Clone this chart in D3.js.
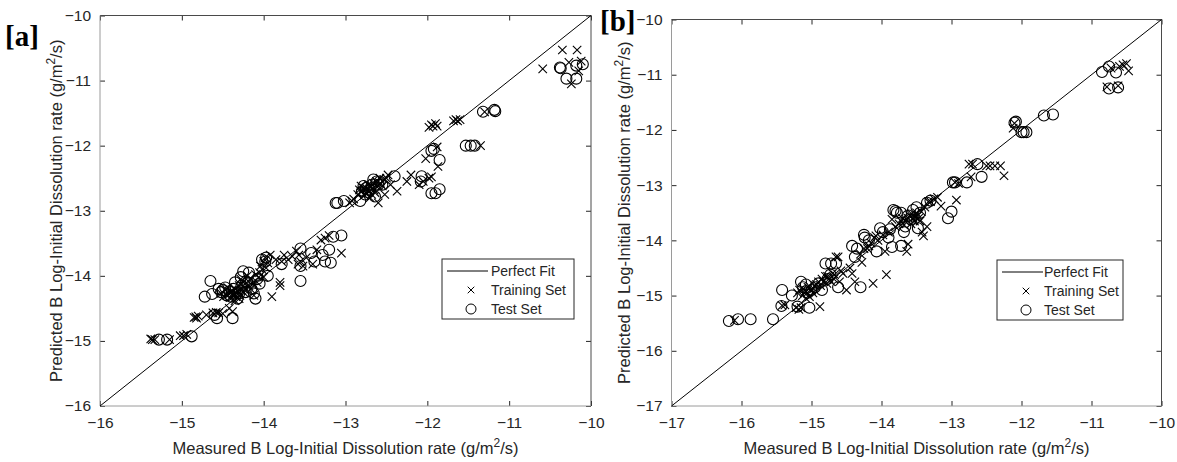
<!DOCTYPE html>
<html>
<head>
<meta charset="utf-8">
<script src="https://cdnjs.cloudflare.com/ajax/libs/d3/7.8.5/d3.min.js"></script>
<style>
  body { margin: 0; background: #fff; }
  svg text { font-family: Arial, "Liberation Sans", sans-serif; fill: #262626; }
</style>
</head>
<body>
<svg id="viz-svg" width="1177" height="462"></svg>
<script>
// [measured, predicted] pairs
var trainA = [
  [-15.38,-14.97],[-15.36,-14.98],[-15.33,-14.98],[-15.15,-14.98],[-15.02,-14.92],[-14.98,-14.92],[-14.94,-14.9],
  [-14.85,-14.64],[-14.83,-14.63],[-14.82,-14.65],[-14.8,-14.62],[-14.7,-14.6],[-14.62,-14.57],[-14.58,-14.56],
  [-14.55,-14.57],[-14.5,-14.58],[-14.42,-14.5],[-14.38,-14.55],[-14.45,-14.3],[-14.4,-14.25],[-14.38,-14.3],
  [-14.35,-14.2],[-14.3,-14.15],[-14.28,-14.05],[-14.25,-14.1],[-14.22,-14.2],[-14.2,-14.0],[-14.15,-14.05],
  [-14.1,-13.98],[-14.08,-14.1],[-14.05,-13.95],[-14.02,-13.9],[-14.0,-13.78],[-13.98,-13.72],[-13.95,-13.8],
  [-13.92,-13.68],[-13.9,-14.32],[-13.85,-13.75],[-13.8,-14.1],[-13.8,-14.15],[-13.78,-13.78],[-13.75,-13.68],
  [-13.7,-13.75],[-13.65,-13.7],[-13.6,-13.62],[-13.55,-13.78],[-13.52,-13.85],[-13.48,-13.72],[-13.4,-13.82],
  [-13.35,-13.6],[-13.3,-13.45],[-13.25,-13.42],[-13.2,-13.38],[-13.05,-13.65],[-14.0,-14.02],[-14.3,-14.35],
  [-14.35,-14.38],[-14.12,-14.3],[-14.18,-14.15],[-14.42,-14.28],[-14.47,-14.22],[-14.33,-14.27],[-14.27,-14.22],
  [-14.44,-14.18],[-14.41,-14.33],[-14.39,-14.22],[-14.36,-14.28],[-14.34,-14.32],[-14.31,-14.24],[-14.29,-14.3],
  [-14.26,-14.16],[-14.24,-14.26],[-14.19,-14.08],[-14.16,-14.2],[-14.13,-14.12],[-14.06,-14.02],[-14.04,-13.85],
  [-13.97,-13.88],[-14.52,-14.27],[-14.49,-14.32],[-13.58,-13.82],[-13.57,-13.68],
  [-12.95,-12.88],[-12.92,-12.85],[-12.9,-12.82],[-12.85,-12.75],[-12.8,-12.7],[-12.78,-12.65],[-12.75,-12.72],
  [-12.72,-12.6],[-12.7,-12.8],[-12.68,-12.75],[-12.65,-12.68],[-12.62,-12.55],[-12.6,-12.88],[-12.58,-12.5],
  [-12.55,-12.62],[-12.52,-12.75],[-12.5,-12.5],[-12.48,-12.45],[-12.45,-12.6],[-12.37,-12.7],[-12.25,-12.55],
  [-12.2,-12.45],[-12.1,-12.6],[-12.05,-12.55],[-12.02,-12.2],[-11.98,-12.5],[-11.95,-12.48],
  [-12.83,-12.68],[-12.81,-12.62],[-12.77,-12.76],[-12.74,-12.66],[-12.71,-12.7],[-12.69,-12.63],[-12.66,-12.58],
  [-12.64,-12.72],[-12.6,-12.62],[-12.57,-12.58],[-12.53,-12.52],
  [-11.98,-11.72],[-11.95,-11.68],[-11.93,-11.7],[-11.9,-11.66],[-11.88,-11.7],[-11.68,-11.62],[-11.65,-11.6],
  [-11.63,-11.62],[-11.6,-11.6],[-11.88,-12.02],[-11.87,-12.32],[-11.35,-12.0],[-11.3,-11.48],
  [-10.59,-10.82],[-10.35,-10.53],[-10.17,-10.53],[-10.27,-10.72],[-10.24,-11.05],[-10.12,-10.7],[-10.15,-10.85]
];
var testA = [
  [-15.28,-14.98],[-15.18,-14.98],[-14.88,-14.93],[-14.72,-14.32],[-14.65,-14.08],[-14.63,-14.28],[-14.55,-14.2],
  [-14.52,-14.25],[-14.5,-14.22],[-14.57,-14.65],[-14.6,-14.6],[-14.45,-14.3],[-14.38,-14.65],[-14.35,-14.1],
  [-14.32,-14.35],[-14.28,-14.02],[-14.25,-13.93],[-14.22,-14.25],[-14.18,-13.95],[-14.12,-14.27],[-14.1,-14.35],
  [-14.05,-14.12],[-14.02,-13.75],[-13.98,-13.78],[-13.95,-14.0],[-13.78,-13.82],[-13.55,-13.58],[-13.55,-13.85],
  [-13.55,-14.08],[-13.42,-13.65],[-13.38,-13.78],[-13.28,-13.68],[-13.25,-13.78],[-13.2,-13.6],[-13.18,-13.8],
  [-13.15,-13.4],[-13.05,-13.38],[-14.47,-14.18],[-14.42,-14.24],[-14.4,-14.32],[-14.37,-14.2],[-14.3,-14.27],
  [-14.27,-14.15],[-14.2,-14.1],[-14.15,-14.2],[-14.08,-14.05],[-13.97,-13.72],
  [-13.12,-12.88],[-13.1,-12.88],[-13.02,-12.85],[-12.82,-12.85],[-12.8,-12.7],
  [-12.75,-12.65],[-12.72,-12.72],[-12.68,-12.6],[-12.62,-12.55],[-12.58,-12.55],[-12.55,-12.6],[-12.4,-12.47],
  [-12.78,-12.62],[-12.76,-12.75],[-12.7,-12.68],[-12.66,-12.52],[-12.6,-12.6],[-12.64,-12.78],
  [-12.07,-12.47],[-12.08,-12.55],[-11.95,-12.73],[-11.9,-12.73],[-11.85,-12.67],[-11.85,-12.22],[-11.95,-12.08],
  [-11.92,-12.05],[-11.53,-12.0],[-11.47,-12.0],[-11.42,-12.0],[-11.32,-11.48],[-11.18,-11.45],[-11.17,-11.47],
  [-10.38,-10.8],[-10.37,-10.81],[-10.3,-10.97],[-10.18,-10.97],[-10.18,-10.77],[-10.1,-10.75]
];
var trainB = [
  [-16.1,-15.45],[-15.42,-15.18],[-15.38,-15.17],[-15.22,-15.22],[-15.18,-15.25],[-15.15,-15.22],[-15.1,-14.95],
  [-15.08,-15.05],[-15.05,-14.85],[-15.0,-14.9],[-14.95,-14.82],[-14.9,-14.75],[-14.88,-15.2],[-14.85,-14.7],
  [-14.8,-14.65],[-14.75,-14.7],[-14.7,-14.6],[-14.65,-14.3],[-14.62,-14.3],[-14.6,-14.75],[-14.55,-14.6],
  [-14.5,-14.9],[-14.45,-14.5],[-14.42,-14.6],[-14.38,-14.75],[-14.3,-14.25],[-14.28,-14.4],[-14.2,-14.15],
  [-14.15,-14.05],[-14.12,-14.78],[-14.1,-13.95],[-14.05,-14.0],[-13.95,-14.2],[-13.93,-14.62],[-13.9,-13.85],
  [-13.8,-13.75],[-13.75,-13.7],[-13.7,-13.6],[-13.62,-14.07],[-13.64,-14.2],[-13.6,-13.55],[-13.55,-13.6],
  [-13.5,-13.5],[-13.45,-13.65],[-13.42,-13.85],[-13.4,-13.92],[-13.35,-13.75],[-13.3,-13.3],[-13.25,-13.25],
  [-13.2,-13.22],[-13.15,-13.38],[-12.93,-13.27],[-12.95,-12.95],[-12.9,-12.97],[-12.75,-12.62],[-12.72,-12.85],
  [-12.7,-12.62],[-12.5,-12.65],[-12.45,-12.65],[-12.38,-12.65],[-12.3,-12.65],[-12.25,-12.83],[-12.12,-11.97],
  [-12.1,-11.88],[-15.2,-14.95],[-15.12,-14.88],[-14.98,-14.95],[-14.78,-14.78],[-14.68,-14.7],[-14.58,-14.55],
  [-13.85,-13.62],[-13.66,-13.65],[-13.58,-13.7],[-13.52,-13.58],[-13.48,-13.55],
  [-15.17,-14.9],[-15.13,-15.0],[-15.06,-14.95],[-15.03,-15.02],[-14.97,-14.88],[-14.93,-14.8],[-14.87,-14.82],
  [-14.83,-14.75],[-14.77,-14.65],[-14.72,-14.75],[-14.67,-14.62],[-14.25,-14.15],[-14.18,-14.1],[-14.08,-13.92],
  [-13.98,-13.9],[-13.72,-13.65],[-13.68,-13.72],[-13.62,-13.6],[-13.57,-13.52],[-13.53,-13.65],[-13.47,-13.6],
  [-13.43,-13.48],[-13.38,-13.4],[-13.33,-13.3],
  [-10.72,-10.88],[-10.6,-10.85],[-10.55,-10.82],[-10.5,-10.8],[-10.47,-10.93],[-10.78,-11.22],[-10.62,-11.2]
];
var testB = [
  [-16.18,-15.46],[-16.05,-15.43],[-15.87,-15.43],[-15.55,-15.43],[-15.43,-15.19],[-15.2,-15.2],[-15.42,-14.9],
  [-15.28,-15.0],[-15.15,-14.75],[-15.08,-14.8],[-15.03,-15.22],[-15.0,-14.9],[-14.95,-14.85],[-14.85,-14.9],
  [-14.8,-14.42],[-14.72,-14.42],[-14.65,-14.42],[-14.73,-14.62],[-14.62,-14.85],[-14.42,-14.1],[-14.35,-14.15],
  [-14.38,-14.3],[-14.3,-14.85],[-14.25,-13.9],[-14.18,-14.0],[-14.07,-14.2],[-14.02,-13.78],[-13.9,-13.95],
  [-13.88,-13.8],[-13.83,-13.45],[-13.8,-13.47],[-13.78,-13.5],[-13.72,-13.5],[-13.85,-14.12],[-13.72,-14.1],
  [-13.68,-13.85],[-13.55,-13.45],[-13.5,-13.4],[-13.45,-13.5],[-13.48,-13.78],[-13.35,-13.32],[-13.3,-13.28],
  [-15.12,-14.85],[-15.05,-14.95],[-14.9,-14.78],[-14.77,-14.7],[-14.24,-13.95],[-13.98,-13.85],[-13.62,-13.55],
  [-13.58,-13.62],[-13.66,-13.75],
  [-13.05,-13.6],[-13.0,-13.48],[-12.98,-12.95],[-12.95,-12.95],[-12.78,-12.95],[-12.63,-12.62],[-12.57,-12.85],
  [-12.1,-11.87],[-12.08,-11.85],[-12.0,-12.04],[-11.97,-12.04],[-11.93,-12.04],[-11.68,-11.74],[-11.55,-11.72],
  [-10.85,-10.95],[-10.75,-10.85],[-10.65,-10.96],[-10.75,-11.25],[-10.62,-11.23]
];
var ticksA = [-16,-15,-14,-13,-12,-11,-10];
var ticksB = [-17,-16,-15,-14,-13,-12,-11,-10];
var legendItems = ["Perfect Fit","Training Set","Test Set"];

var svg = d3.select("#viz-svg");

function drawPanel(cfg){
  var g = svg.append("g").attr("transform","translate("+cfg.left+","+cfg.top+")");
  var w = cfg.width, h = cfg.height;
  var x = d3.scaleLinear().domain(cfg.domain).range([0,w]);
  var y = d3.scaleLinear().domain(cfg.domain).range([h,0]);

  // axes, ticks pointing inward like the original
  function styleAxis(sel, showText){
    sel.select(".domain").remove();
    sel.selectAll(".tick line").attr("stroke","#262626");
    sel.selectAll("text").style("font-size","15.5px").style("fill","#262626");
    if (!showText) sel.selectAll("text").remove();
  }
  g.append("g").attr("transform","translate(0,"+h+")")
    .call(d3.axisBottom(x).tickValues(cfg.ticks).tickSize(-5).tickPadding(11).tickFormat(d3.format("d")))
    .call(styleAxis,true);
  g.append("g")
    .call(d3.axisTop(x).tickValues(cfg.ticks).tickSize(-5).tickFormat(""))
    .call(styleAxis,false);
  g.append("g")
    .call(d3.axisLeft(y).tickValues(cfg.ticks).tickSize(-5).tickPadding(9).tickFormat(d3.format("d")))
    .call(styleAxis,true);
  g.append("g").attr("transform","translate("+w+",0)")
    .call(d3.axisRight(y).tickValues(cfg.ticks).tickSize(-5).tickFormat(""))
    .call(styleAxis,false);

  // box
  g.append("line").attr("x1",0).attr("x2",w).attr("y1",0).attr("y2",0).attr("stroke","#4a4a4a");
  g.append("line").attr("x1",w).attr("x2",w).attr("y1",0).attr("y2",h).attr("stroke","#4a4a4a");
  g.append("line").attr("x1",0).attr("x2",0).attr("y1",0).attr("y2",h).attr("stroke","#9a9a9a");
  g.append("line").attr("x1",0).attr("x2",w).attr("y1",h).attr("y2",h).attr("stroke","#9a9a9a");

  // perfect fit
  g.append("line")
    .attr("x1",x(cfg.domain[0])).attr("y1",y(cfg.domain[0]))
    .attr("x2",x(cfg.domain[1])).attr("y2",y(cfg.domain[1]))
    .attr("stroke","#000").attr("stroke-width",1);

  var cross = d3.symbol().type(d3.symbolX).size(48);
  g.append("g").selectAll("path").data(cfg.train).enter().append("path")
    .attr("d",cross)
    .attr("transform",function(d){ return "translate("+x(d[0])+","+y(d[1])+")"; })
    .attr("fill","none").attr("stroke","#000").attr("stroke-width",1.1);
  g.append("g").selectAll("circle").data(cfg.test).enter().append("circle")
    .attr("cx",function(d){ return x(d[0]); })
    .attr("cy",function(d){ return y(d[1]); })
    .attr("r",5.5).attr("fill","none").attr("stroke","#000").attr("stroke-width",1.1);

  // axis labels
  var xl = g.append("text").attr("x",w/2).attr("y",h+48).attr("text-anchor","middle").style("font-size","16.5px");
  xl.append("tspan").text("Measured B Log-Initial Dissolution rate (g/m");
  xl.append("tspan").attr("dy",-7).style("font-size","12px").text("2");
  xl.append("tspan").attr("dy",7).text("/s)");

  var yl = g.append("text").attr("transform","translate("+cfg.ylabelX+","+(h/2)+") rotate(-90)")
    .attr("text-anchor","middle").style("font-size","16.5px");
  yl.append("tspan").text("Predicted B Log-Initial Dissolution rate (g/m");
  yl.append("tspan").attr("dy",-7).style("font-size","12px").text("2");
  yl.append("tspan").attr("dy",7).text("/s)");

  // legend
  var lg = g.append("g").attr("transform","translate("+cfg.legend[0]+","+cfg.legend[1]+")");
  lg.append("rect").attr("width",cfg.legend[2]).attr("height",60)
    .attr("fill","#fff").attr("stroke","#262626");
  legendItems.forEach(function(name,i){
    var ly = 12 + i*19;
    if (i===0) lg.append("line").attr("x1",5).attr("x2",46).attr("y1",ly).attr("y2",ly).attr("stroke","#000");
    if (i===1) lg.append("path").attr("d",d3.symbol().type(d3.symbolX).size(30)).attr("transform","translate(29,"+ly+")")
      .attr("fill","none").attr("stroke","#000");
    if (i===2) lg.append("circle").attr("cx",29).attr("cy",ly).attr("r",5).attr("fill","none").attr("stroke","#000");
    lg.append("text").attr("x",cfg.legendText).attr("y",ly).attr("dy","0.35em").style("font-size","14px").text(name);
  });

  svg.append("text").attr("x",cfg.tag[0]).attr("y",cfg.tag[1])
    .style("font-family","'Liberation Serif','Times New Roman',serif")
    .style("font-weight","bold").style("font-size","29px").style("fill","#000")
    .text(cfg.label);
}

drawPanel({left:100, top:15.5, width:491, height:390.5, domain:[-16,-10], ticks:ticksA,
  train:trainA, test:testA, ylabelX:-38, legend:[342,243.5,132], legendText:49, tag:[5,46], label:"[a]"});
drawPanel({left:671.5, top:19.5, width:490, height:386.5, domain:[-17,-10], ticks:ticksB,
  train:trainB, test:testB, ylabelX:-42, legend:[325.5,240.5,126], legendText:47, tag:[600,31], label:"[b]"});
</script>
</body>
</html>
